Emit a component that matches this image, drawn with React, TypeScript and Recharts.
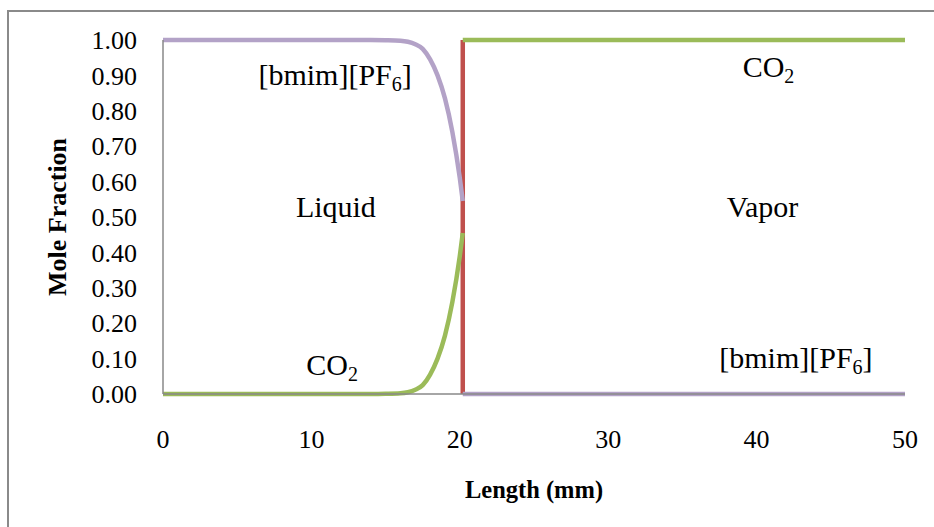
import React from "react";
import { LineChart, Line, XAxis, YAxis, ReferenceDot, Label } from "recharts";

// Liquid region (0 – interface)
const lengthLiquid = [0, 5, 10, 14, 15, 16, 16.5, 17, 17.5, 18, 18.5, 19, 19.5, 20, 20.2];
const co2Liquid = [0, 0, 0, 0, 0.0005, 0.002, 0.005, 0.012, 0.025, 0.055, 0.1, 0.165, 0.26, 0.39, 0.455];
const ilLiquid = [1, 1, 1, 1, 0.9995, 0.998, 0.995, 0.988, 0.975, 0.945, 0.9, 0.835, 0.74, 0.61, 0.545];

// Vapor region (interface – 50)
const lengthVapor = [20.2, 50];
const co2Vapor = [1, 1];
const ilVapor = [0, 0];

// Interface line
const interfaceLength = [20.2, 20.2];
const interfaceFraction = [0, 1];

const xTicks = [0, 10, 20, 30, 40, 50];
const yTicks = [0, 0.1, 0.2, 0.3, 0.4, 0.5, 0.6, 0.7, 0.8, 0.9, 1.0];

// Annotations
const annoText = ["[bmim][PF", "CO", "Liquid", "Vapor", "CO", "[bmim][PF"];
const annoSub = ["6", "2", "", "", "2", "6"];
const annoTail = ["]", "", "", "", "", "]"];
const annoX = [11.6, 40.8, 11.65, 40.4, 11.4, 42.65];
const annoY = [0.873, 0.895, 0.5, 0.5, 0.054, 0.073];

const PURPLE = "#B3A2C7";
const GREEN = "#9BBB59";
const RED = "#C0504D";
const AXIS = "#898989";
const SERIF = "'Liberation Serif', 'Times New Roman', serif";

const liquidIL = lengthLiquid.map((x, i) => ({ x, v: ilLiquid[i] }));
const liquidCO2 = lengthLiquid.map((x, i) => ({ x, v: co2Liquid[i] }));
const vaporIL = lengthVapor.map((x, i) => ({ x, v: ilVapor[i] }));
const vaporCO2 = lengthVapor.map((x, i) => ({ x, v: co2Vapor[i] }));
const interfaceData = interfaceLength.map((x, i) => ({ x, v: interfaceFraction[i] }));

const makeShape = (i: number) => (props: any) => {
  const { cx, cy } = props;
  return (
    <text x={cx} y={cy} textAnchor="middle" fontFamily={SERIF} fontSize={30} fill="#000">
      {annoText[i]}
      {annoSub[i] ? (
        <tspan fontSize={20} dy={6}>
          {annoSub[i]}
        </tspan>
      ) : null}
      {annoTail[i] ? <tspan dy={annoSub[i] ? -6 : 0}>{annoTail[i]}</tspan> : null}
    </text>
  );
};

export default function App() {
  return (
    <div
      style={{
        position: "absolute",
        left: 0,
        top: 0,
        width: 934,
        height: 527,
        overflow: "hidden",
        background: "#fff",
      }}
    >
      <div
        style={{
          position: "absolute",
          left: 7,
          top: 10,
          width: 1000,
          height: 1000,
          borderTop: "2px solid #8a8a8a",
          borderLeft: "2px solid #8a8a8a",
        }}
      />
      <div style={{ position: "absolute", left: 0, top: 0 }}>
        <LineChart width={934} height={527} margin={{ top: 40, right: 29, bottom: 0, left: 0 }}>
          <XAxis
            type="number"
            dataKey="x"
            domain={[0, 50]}
            ticks={xTicks}
            height={133}
            tickLine={false}
            tickMargin={30}
            axisLine={{ stroke: AXIS, strokeWidth: 1.5 }}
            tick={{ fill: "#000", fontSize: 26, fontFamily: SERIF }}
            allowDataOverflow
          >
            <Label
              content={(p: any) => {
                const vb = p.viewBox;
                return (
                  <text
                    x={vb.x + vb.width / 2}
                    y={vb.y + 104}
                    textAnchor="middle"
                    fontFamily={SERIF}
                    fontWeight="bold"
                    fontSize={24.5}
                    fill="#000"
                  >
                    Length (mm)
                  </text>
                );
              }}
            />
          </XAxis>
          <YAxis
            type="number"
            domain={[0, 1]}
            ticks={yTicks}
            width={163}
            tickLine={false}
            tickMargin={20}
            axisLine={{ stroke: AXIS, strokeWidth: 1.5 }}
            tick={{ fill: "#000", fontSize: 26, fontFamily: SERIF }}
            tickFormatter={(v: number) => v.toFixed(2)}
            interval={0}
          >
            <Label
              content={(p: any) => {
                const vb = p.viewBox;
                const cy = vb.y + vb.height / 2;
                return (
                  <text
                    x={66}
                    y={cy}
                    transform={`rotate(-90, 66, ${cy})`}
                    textAnchor="middle"
                    fontFamily={SERIF}
                    fontWeight="bold"
                    fontSize={26}
                    fill="#000"
                  >
                    Mole Fraction
                  </text>
                );
              }}
            />
          </YAxis>
          <Line
            data={interfaceData}
            dataKey="v"
            type="linear"
            stroke={RED}
            strokeWidth={4.5}
            dot={false}
            isAnimationActive={false}
          />
          <Line
            data={liquidIL}
            dataKey="v"
            type="monotone"
            stroke={PURPLE}
            strokeWidth={4.5}
            dot={false}
            isAnimationActive={false}
          />
          <Line
            data={vaporIL}
            dataKey="v"
            type="linear"
            stroke={PURPLE}
            strokeWidth={4.5}
            dot={false}
            isAnimationActive={false}
          />
          <Line
            data={liquidCO2}
            dataKey="v"
            type="monotone"
            stroke={GREEN}
            strokeWidth={4.5}
            dot={false}
            isAnimationActive={false}
          />
          <Line
            data={vaporCO2}
            dataKey="v"
            type="linear"
            stroke={GREEN}
            strokeWidth={4.5}
            dot={false}
            isAnimationActive={false}
          />
          {annoX.map((x, i) => (
            <ReferenceDot key={i} x={x} y={annoY[i]} r={1} shape={makeShape(i)} ifOverflow="visible" />
          ))}
        </LineChart>
      </div>
    </div>
  );
}
